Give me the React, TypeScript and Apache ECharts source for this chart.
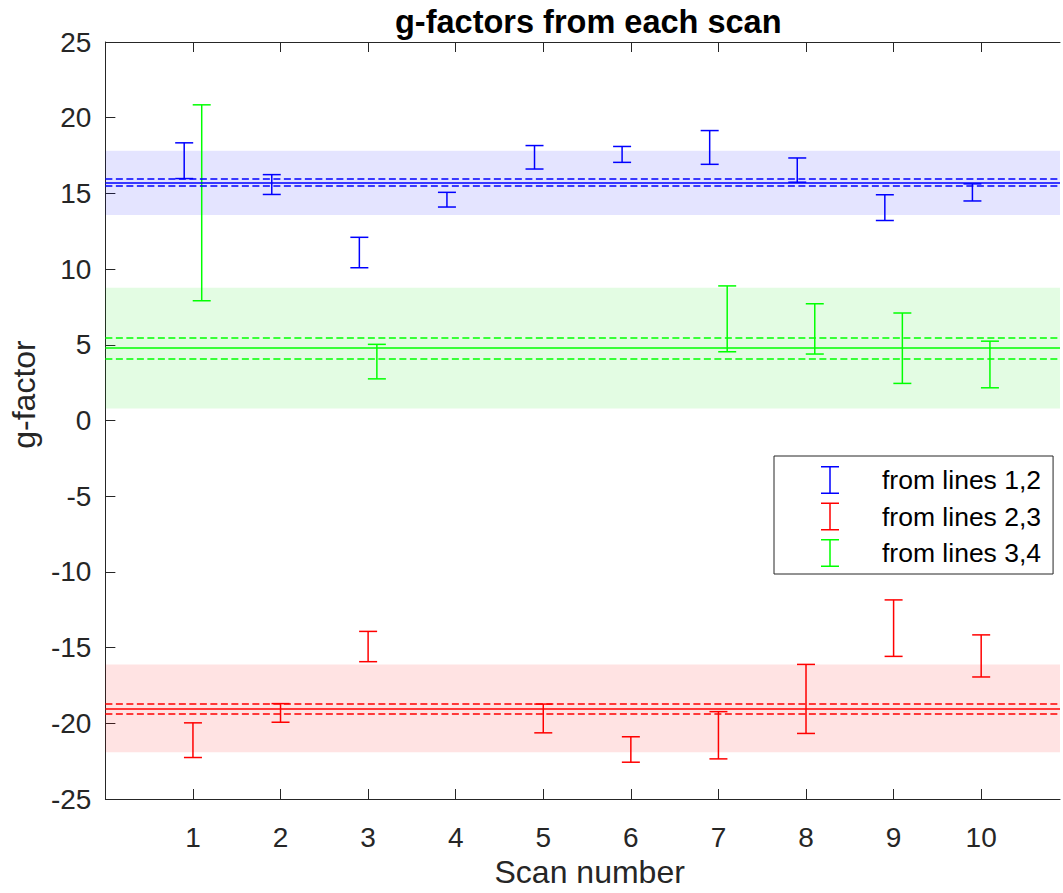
import React, { useEffect, useRef } from "react";
import * as echarts from "echarts";

// ---- data ----
const scanTicks = [1, 2, 3, 4, 5, 6, 7, 8, 9, 10];

const blueScans = [1, 2, 3, 4, 5, 6, 7, 8, 9, 10];
const blueLow = [15.98, 14.93, 10.09, 14.1, 16.61, 17.05, 16.92, 15.74, 13.21, 14.5];
const blueHigh = [18.34, 16.24, 12.1, 15.07, 18.16, 18.1, 19.15, 17.34, 14.91, 15.63];

const redScans = [1, 2, 3, 5, 6, 7, 8, 9, 10];
const redLow = [-22.26, -19.93, -15.93, -20.63, -22.57, -22.35, -20.67, -15.58, -16.94];
const redHigh = [-19.97, -18.7, -13.93, -18.73, -20.89, -19.23, -16.11, -11.85, -14.16];

const greenScans = [1, 3, 7, 8, 9, 10];
const greenLow = [7.91, 2.75, 4.54, 4.39, 2.45, 2.16];
const greenHigh = [20.85, 5.03, 8.89, 7.71, 7.1, 5.24];

// mean, confidence (dashed), spread band
const blueMean = 15.68;
const blueDashed = [15.48, 15.94];
const blueBand = [13.58, 17.82];

const redMean = -19.03;
const redDashed = [-19.36, -18.68];
const redBand = [-21.92, -16.11];

const greenMean = 4.78;
const greenDashed = [4.06, 5.46];
const greenBand = [0.79, 8.76];

const seriesNames = ["from lines 1,2", "from lines 2,3", "from lines 3,4"];

// visible x extent (the axes box continues past the right edge of the picture)
const X_MIN = 0;
const X_MAX_VISIBLE = 10.9;

const FONT = "'Liberation Sans', Arial, Helvetica, sans-serif";
const AXIS = "#262626";

const ICON = "path://M0,0H18V1.5H0Z M8.25,0H9.75V28H8.25Z M0,26.5H18V28H0Z";

function buildSeries(
  name: string,
  color: string,
  bandColor: string,
  scans: number[],
  low: number[],
  high: number[],
  offset: number,
  mean: number,
  dashed: number[],
  band: number[]
) {
  const data = scans.map((s, i) => [s + offset, low[i], high[i]]);
  return {
    type: "custom",
    name,
    xAxisIndex: 0,
    yAxisIndex: 0,
    itemStyle: { color },
    encode: { x: 0, y: [1, 2] },
    data,
    clip: false,
    renderItem: (params: any, api: any) => {
      const x = api.value(0);
      const lo = api.coord([x, api.value(1)]);
      const hi = api.coord([x, api.value(2)]);
      const hw = 9;
      const st = { stroke: color, lineWidth: 1.5 };
      return {
        type: "group",
        children: [
          { type: "line", shape: { x1: lo[0], y1: lo[1], x2: hi[0], y2: hi[1] }, style: st },
          { type: "line", shape: { x1: lo[0] - hw, y1: lo[1], x2: lo[0] + hw, y2: lo[1] }, style: st },
          { type: "line", shape: { x1: hi[0] - hw, y1: hi[1], x2: hi[0] + hw, y2: hi[1] }, style: st },
        ],
      };
    },
    markArea: {
      silent: true,
      itemStyle: { color: bandColor },
      data: [[{ yAxis: band[0] }, { yAxis: band[1] }]],
    },
    markLine: {
      silent: true,
      symbol: "none",
      label: { show: false },
      data: [
        { yAxis: mean, lineStyle: { color, width: 1.5, type: "solid" } },
        { yAxis: dashed[0], lineStyle: { color, width: 1.5, type: [7, 3.5] } },
        { yAxis: dashed[1], lineStyle: { color, width: 1.5, type: [7, 3.5] } },
      ],
    },
  };
}

export default function App() {
  const ref = useRef<HTMLDivElement>(null);
  useEffect(() => {
    if (!ref.current) return;
    const chart = echarts.init(ref.current, undefined, { renderer: "svg" });
    const xCommon = {
      type: "value",
      min: X_MIN,
      max: X_MAX_VISIBLE,
      interval: 1,
      splitLine: { show: false },
      axisLine: { show: true, onZero: false, lineStyle: { color: AXIS, width: 1 } },
      axisTick: {
        show: true,
        inside: true,
        length: 10,
        lineStyle: { color: AXIS },
        customValues: scanTicks,
      },
    };
    chart.setOption({
      animation: false,
      backgroundColor: "#ffffff",
      title: {
        text: "g-factors from each scan",
        left: 395,
        top: 4,
        padding: 0,
        textStyle: { fontFamily: FONT, fontSize: 32.5, fontWeight: "bold", color: "#000", lineHeight: 36 },
      },
      grid: { left: 105, top: 42, bottom: 87, right: 0, containLabel: false },
      legend: {
        orient: "vertical",
        left: 774,
        top: 456,
        padding: [10, 12, 7, 47],
        itemGap: 8.5,
        itemWidth: 18,
        itemHeight: 28,
        backgroundColor: "#fff",
        borderColor: AXIS,
        borderWidth: 1,
        borderRadius: 0,
        textStyle: { fontFamily: FONT, fontSize: 26.5, color: "#000", padding: [0, 0, 0, 38], lineHeight: 28 },
        data: seriesNames.map((n) => ({ name: n, icon: ICON })),
      },
      xAxis: [
        {
          ...xCommon,
          position: "bottom",
          name: "Scan number",
          nameLocation: "middle",
          nameGap: 57,
          nameTextStyle: { fontFamily: FONT, fontSize: 32, color: AXIS, padding: [0, 0, 0, 14] },
          axisLabel: {
            show: true,
            margin: 24,
            fontFamily: FONT,
            fontSize: 28,
            color: AXIS,
            formatter: (v: number) => (scanTicks.includes(v) ? String(v) : ""),
          },
        },
        { ...xCommon, position: "top", axisLabel: { show: false } },
      ],
      yAxis: [
        {
          type: "value",
          min: -25,
          max: 25,
          interval: 5,
          position: "left",
          splitLine: { show: false },
          axisLine: { show: true, onZero: false, lineStyle: { color: AXIS, width: 1 } },
          axisTick: { show: true, inside: true, length: 10, lineStyle: { color: AXIS } },
          name: "g-factor",
          nameLocation: "middle",
          nameGap: 59,
          nameRotate: 90,
          nameTextStyle: { fontFamily: FONT, fontSize: 32, color: AXIS, padding: [0, 0, 0, 52] },
          axisLabel: { show: true, margin: 14, fontFamily: FONT, fontSize: 28, color: AXIS },
        },
      ],
      series: [
        buildSeries(seriesNames[0], "#0000ff", "rgba(0,0,255,0.105)", blueScans, blueLow, blueHigh, -0.1, blueMean, blueDashed, blueBand),
        buildSeries(seriesNames[1], "#ff0000", "rgba(255,0,0,0.11)", redScans, redLow, redHigh, 0, redMean, redDashed, redBand),
        buildSeries(seriesNames[2], "#00ff00", "rgba(0,230,0,0.11)", greenScans, greenLow, greenHigh, 0.1, greenMean, greenDashed, greenBand),
      ],
    });
    return () => chart.dispose();
  }, []);
  return (
    <div
      ref={ref}
      style={{ position: "absolute", left: 0, top: 0, width: 1063, height: 893, background: "#fff" }}
    />
  );
}
